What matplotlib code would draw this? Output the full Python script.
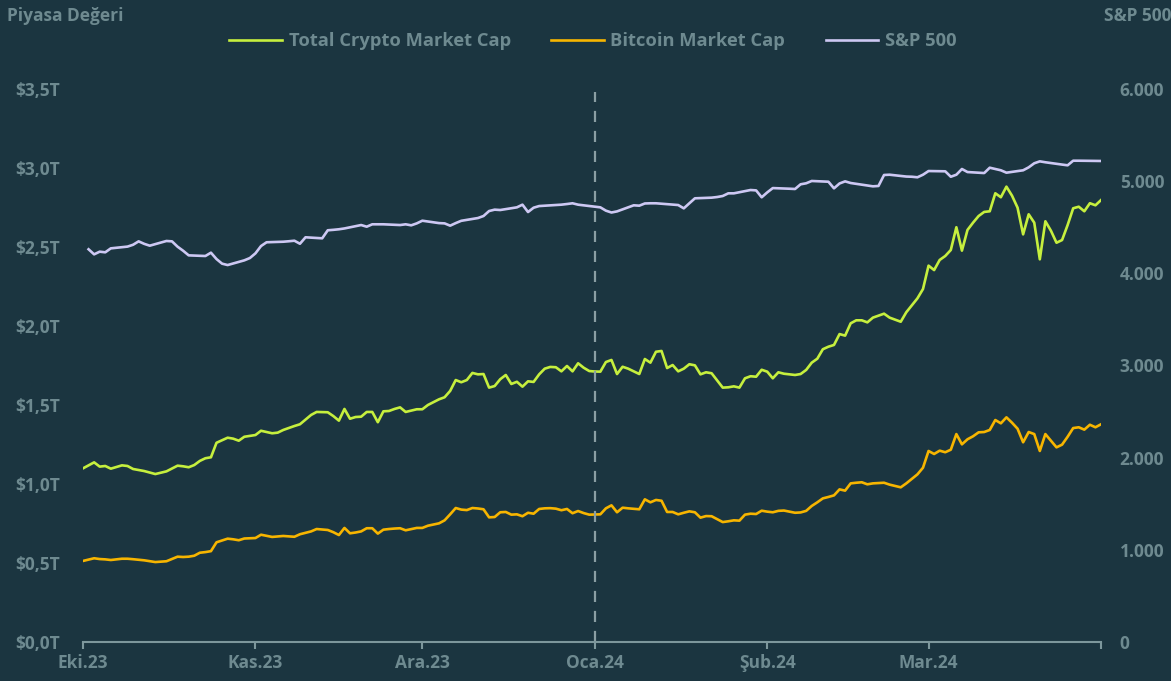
import numpy as np
import pandas as pd
import matplotlib
matplotlib.use("Agg")
import matplotlib.pyplot as plt
from matplotlib.ticker import FuncFormatter

# crypto data: days since 1 Oct 2023, values in trillion USD
crypto_days = [0, 2, 3, 4, 5, 7, 8, 9, 11, 13, 15, 17, 18, 19, 20, 21, 22, 23, 24, 26,
               27, 28, 29, 31, 32, 34, 35, 36, 38, 39, 41, 42, 44, 45, 46, 47, 48, 49, 50, 51,
               52, 53, 54, 55, 56, 57, 58, 60, 61, 62, 64, 65, 66, 67, 68, 69, 70, 71, 72, 73,
               74, 75, 76, 77, 78, 79, 80, 81, 82, 83, 84, 85, 86, 87, 88, 89, 90, 91, 92, 93,
               94, 95, 96, 97, 98, 100, 101, 102, 103, 104, 105, 106, 107, 108, 109, 110, 111, 112, 113, 115,
               116, 117, 118, 119, 120, 121, 122, 123, 124, 125, 126, 128, 129, 130, 131, 132, 133, 134, 135, 136,
               137, 138, 139, 140, 141, 142, 144, 145, 147, 148, 150, 151, 152, 153, 154, 155, 156, 157, 158, 159,
               160, 161, 162, 163, 164, 165, 166, 167, 168, 169, 170, 171, 172, 173, 174, 175, 176, 177, 178, 179,
               180, 181, 182, 183]

total_crypto = [1.099, 1.137, 1.110, 1.114, 1.097, 1.118, 1.114, 1.095, 1.082, 1.063, 1.080, 1.116, 1.112, 1.106, 1.120, 1.146, 1.163, 1.169, 1.261, 1.293,
                1.287, 1.274, 1.299, 1.310, 1.337, 1.321, 1.325, 1.342, 1.367, 1.378, 1.437, 1.456, 1.454, 1.430, 1.401, 1.475, 1.413, 1.424, 1.426, 1.456,
                1.456, 1.391, 1.460, 1.462, 1.475, 1.485, 1.456, 1.473, 1.473, 1.500, 1.536, 1.549, 1.589, 1.658, 1.644, 1.658, 1.703, 1.694, 1.696, 1.610,
                1.620, 1.663, 1.690, 1.633, 1.647, 1.616, 1.650, 1.646, 1.694, 1.730, 1.741, 1.739, 1.713, 1.747, 1.713, 1.764, 1.736, 1.715, 1.712, 1.711,
                1.772, 1.785, 1.696, 1.742, 1.730, 1.696, 1.791, 1.768, 1.837, 1.842, 1.734, 1.753, 1.713, 1.730, 1.758, 1.751, 1.694, 1.707, 1.701, 1.610,
                1.612, 1.618, 1.610, 1.669, 1.682, 1.679, 1.723, 1.711, 1.669, 1.707, 1.698, 1.690, 1.696, 1.722, 1.768, 1.793, 1.853, 1.869, 1.880, 1.949,
                1.939, 2.017, 2.036, 2.036, 2.023, 2.053, 2.078, 2.053, 2.027, 2.087, 2.175, 2.234, 2.382, 2.354, 2.418, 2.443, 2.481, 2.625, 2.477, 2.608,
                2.654, 2.696, 2.722, 2.726, 2.840, 2.815, 2.882, 2.825, 2.749, 2.580, 2.707, 2.654, 2.422, 2.663, 2.603, 2.527, 2.544, 2.639, 2.745, 2.755,
                2.726, 2.777, 2.764, 2.797]

bitcoin = [0.513, 0.530, 0.525, 0.523, 0.519, 0.527, 0.527, 0.524, 0.517, 0.506, 0.511, 0.540, 0.538, 0.540, 0.546, 0.565, 0.569, 0.575, 0.631, 0.654,
           0.650, 0.644, 0.655, 0.658, 0.679, 0.665, 0.668, 0.671, 0.666, 0.682, 0.700, 0.715, 0.709, 0.695, 0.677, 0.722, 0.688, 0.693, 0.700, 0.720,
           0.720, 0.686, 0.711, 0.715, 0.718, 0.720, 0.707, 0.722, 0.722, 0.736, 0.751, 0.770, 0.808, 0.848, 0.838, 0.835, 0.848, 0.845, 0.840, 0.789,
           0.791, 0.821, 0.823, 0.806, 0.808, 0.796, 0.818, 0.812, 0.842, 0.846, 0.847, 0.844, 0.834, 0.842, 0.815, 0.829, 0.816, 0.806, 0.807, 0.808,
           0.846, 0.865, 0.821, 0.850, 0.846, 0.840, 0.903, 0.884, 0.899, 0.894, 0.823, 0.823, 0.808, 0.818, 0.827, 0.821, 0.787, 0.797, 0.796, 0.759,
           0.764, 0.770, 0.768, 0.806, 0.812, 0.810, 0.831, 0.825, 0.821, 0.830, 0.832, 0.818, 0.820, 0.830, 0.861, 0.884, 0.909, 0.918, 0.928, 0.966,
           0.958, 1.004, 1.008, 1.011, 0.998, 1.004, 1.008, 0.996, 0.979, 1.004, 1.061, 1.103, 1.209, 1.190, 1.211, 1.201, 1.217, 1.316, 1.251, 1.283,
           1.302, 1.327, 1.329, 1.342, 1.405, 1.384, 1.422, 1.388, 1.350, 1.264, 1.329, 1.316, 1.209, 1.316, 1.274, 1.232, 1.249, 1.299, 1.354, 1.359,
           1.344, 1.375, 1.359, 1.378]

# S&P 500 trading days (days since 1 Oct 2023) and index level
spx_days = [1, 2, 3, 4, 5, 8, 9, 10, 11, 12, 15, 16, 17, 18, 19, 22, 23, 24, 25, 26,
            29, 30, 31, 32, 33, 36, 37, 38, 39, 40, 43, 44, 45, 46, 47, 50, 51, 52, 54, 57,
            58, 59, 60, 61, 64, 65, 66, 67, 68, 71, 72, 73, 74, 75, 78, 79, 80, 81, 82, 86,
            87, 88, 89, 93, 94, 95, 96, 99, 100, 101, 102, 103, 107, 108, 109, 110, 113, 114, 115, 116,
            117, 120, 121, 122, 123, 124, 127, 128, 129, 130, 131, 134, 135, 136, 137, 138, 142, 143, 144, 145,
            148, 149, 150, 151, 152, 155, 156, 157, 158, 159, 162, 163, 164, 165, 166, 169, 170, 171, 172, 173,
            176, 177, 178, 179, 183]

spx = [4261, 4206, 4235, 4228, 4271, 4290, 4310, 4347, 4320, 4300, 4351, 4347, 4289, 4245, 4195, 4188, 4224, 4155, 4105, 4090,
       4141, 4166, 4217, 4296, 4337, 4343, 4348, 4354, 4321, 4391, 4380, 4467, 4472, 4478, 4487, 4524, 4506, 4532, 4532, 4524,
       4532, 4521, 4542, 4571, 4545, 4542, 4517, 4545, 4570, 4600, 4622, 4676, 4691, 4687, 4716, 4745, 4665, 4712, 4730, 4745,
       4752, 4760, 4745, 4716, 4680, 4660, 4672, 4738, 4734, 4758, 4760, 4760, 4741, 4705, 4760, 4814, 4821, 4828, 4839, 4868,
       4868, 4904, 4900, 4825, 4878, 4925, 4918, 4915, 4966, 4977, 5002, 4994, 4922, 4975, 4998, 4980, 4944, 4948, 5067, 5070,
       5050, 5048, 5042, 5070, 5110, 5107, 5048, 5070, 5132, 5099, 5088, 5146, 5132, 5118, 5092, 5118, 5150, 5194, 5215, 5205,
       5180, 5172, 5222, 5222, 5219]

month_labels = ["Eki.23", "Kas.23", "Ara.23", "Oca.24", "Şub.24", "Mar.24", ""]
month_starts = pd.date_range("2023-10-01", "2024-04-01", freq="MS")
year_mark = pd.Timestamp("2024-01-01")

start = pd.Timestamp("2023-10-01")
crypto_dates = start + pd.to_timedelta(crypto_days, unit="D")
spx_dates = start + pd.to_timedelta(spx_days, unit="D")

BG = "#1b3540"
TXT = "#6e8a90"
AXIS = "#7d979c"
GREEN = "#c6ef3e"
ORANGE = "#f7b500"
PURPLE = "#cdc8f3"
FS = 12.5

plt.rcParams["font.family"] = ["Open Sans", "DejaVu Sans"]
plt.rcParams["font.weight"] = "bold"

fig = plt.figure(figsize=(11.71, 6.81), dpi=100, facecolor=BG)
ax = fig.add_axes([83 / 1171, 1 - 642 / 681, (1101 - 83) / 1171, (642 - 89) / 681])
ax.set_facecolor(BG)
ax2 = ax.twinx()

l1, = ax.plot(crypto_dates, total_crypto, color=GREEN, lw=1.9, label="Total Crypto Market Cap")
l2, = ax.plot(crypto_dates, bitcoin, color=ORANGE, lw=1.9, label="Bitcoin Market Cap")
l3, = ax2.plot(spx_dates, spx, color=PURPLE, lw=1.9, label="S&P 500")

ax.axvline(year_mark, color="#8a9ea3", lw=1.6, ls=(0, (5, 4)), ymax=0.995)

ax.set_xlim(month_starts[0], month_starts[-1])
ax.set_ylim(0, 3.5)
ax2.set_ylim(0, 6000)

ax.set_yticks(np.arange(0, 3.51, 0.5))
ax.yaxis.set_major_formatter(FuncFormatter(lambda v, p: "$" + f"{v:.1f}".replace(".", ",") + "T"))
ax2.set_yticks(np.arange(0, 6001, 1000))
ax2.yaxis.set_major_formatter(FuncFormatter(lambda v, p: "0" if v == 0 else f"{v:,.0f}".replace(",", ".")))

ax.set_xticks(month_starts)
ax.set_xticklabels(month_labels)

for a in (ax, ax2):
    for s in a.spines.values():
        s.set_visible(False)
ax.spines["bottom"].set_visible(True)
ax.spines["bottom"].set_color(AXIS)
ax.spines["bottom"].set_linewidth(1.5)

ax.tick_params(axis="x", colors=AXIS, length=5, width=1.5, labelcolor=TXT, labelsize=FS, pad=4)
ax.tick_params(axis="y", length=0, labelcolor=TXT, labelsize=FS, pad=49)
for t in ax.get_yticklabels():
    t.set_horizontalalignment("left")
ax2.tick_params(axis="y", length=0, labelcolor=TXT, labelsize=FS, pad=13.5)

fig.text(7 / 1171, 1 - 16 / 681, "Piyasa Değeri", color=TXT, fontsize=FS, fontweight="bold", va="center", ha="left")
fig.text(1171 / 1171, 1 - 16 / 681, "S&P 500", color=TXT, fontsize=FS, fontweight="bold", va="center", ha="right")

leg = fig.legend(handles=[l1, l2, l3], loc="center", bbox_to_anchor=(593 / 1171, 1 - 41 / 681),
                 ncol=3, frameon=False, fontsize=13.2, handlelength=2.85, columnspacing=2.2,
                 handletextpad=0.38)
for t in leg.get_texts():
    t.set_color(TXT)

fig.savefig("out.png", dpi=100, facecolor=BG)
